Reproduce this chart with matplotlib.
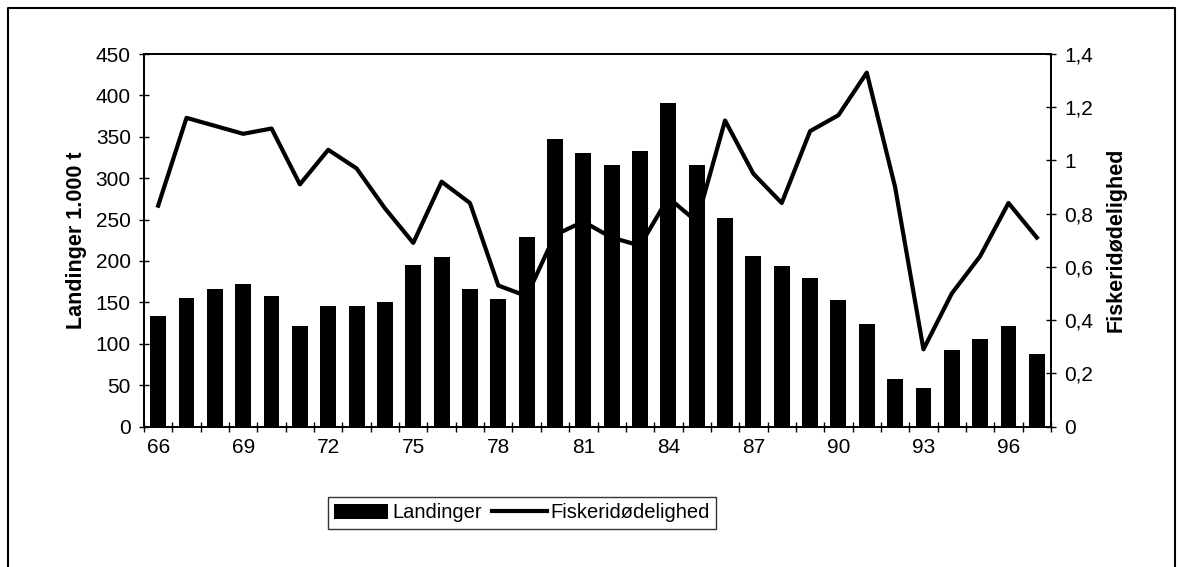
import matplotlib.pyplot as plt
from matplotlib.lines import Line2D
from matplotlib.ticker import FixedLocator, FuncFormatter

plt.rcParams['font.family'] = ['Liberation Sans', 'DejaVu Sans']

# %% Data.
years = ['66', '67', '68', '69', '70', '71', '72', '73', '74', '75', '76', '77',
         '78', '79', '80', '81', '82', '83', '84', '85', '86', '87', '88', '89',
         '90', '91', '92', '93', '94', '95', '96', '97']
landinger = [134, 155, 166, 172, 158, 122, 145, 145, 150, 195, 205, 166,
             154, 229, 347, 330, 316, 333, 391, 316, 252, 206, 194, 180,
             153, 124, 57, 46, 92, 106, 122, 88]
fiskeri = [0.83, 1.16, 1.13, 1.10, 1.12, 0.91, 1.04, 0.97, 0.82, 0.69, 0.92, 0.84,
           0.53, 0.49, 0.72, 0.77, 0.71, 0.68, 0.86, 0.77, 1.15, 0.95, 0.84, 1.11,
           1.17, 1.33, 0.90, 0.29, 0.50, 0.64, 0.84, 0.71]

# %% Plot.
fig = plt.figure(figsize=(11.8, 5.67), dpi=100)
ax = fig.add_axes([144 / 1180, 1 - 426.5 / 567, (1051 - 144) / 1180, (426.5 - 54) / 567])
ax2 = ax.twinx()

x = list(range(len(years)))
bars = ax.bar(x, landinger, width=0.56, color='black', label='Landinger')
line, = ax2.plot(x, fiskeri, color='black', linewidth=3, label='Fiskeridødelighed')

ax.set_xlim(-0.5, len(years) - 0.5)
ax.set_ylim(0, 450)
ax2.set_ylim(0, 1.4)
ax.set_yticks(range(0, 451, 50))
ax2.set_yticks([0, 0.2, 0.4, 0.6, 0.8, 1.0, 1.2, 1.4])
ax2.yaxis.set_major_formatter(FuncFormatter(lambda v, p: f"{v:g}".replace('.', ',')))

# ticks at category boundaries, labels every third year
ax.xaxis.set_major_locator(FixedLocator([i - 0.5 for i in range(len(years) + 1)]))
ax.xaxis.set_major_formatter(FuncFormatter(lambda v, p: ''))
ax.set_xticks(x[::3], years[::3], minor=True)
ax.tick_params(axis='x', which='major', direction='inout', length=7, width=1)
ax.tick_params(axis='x', which='minor', length=0, pad=8, labelsize=15)
ax.tick_params(axis='y', direction='inout', length=7, width=1, labelsize=15, pad=6)
ax2.tick_params(axis='y', direction='inout', length=7, width=1, labelsize=15, pad=6)

for a in (ax, ax2):
    for s in a.spines.values():
        s.set_linewidth(1.3)

ax.set_ylabel('Landinger 1.000 t', fontsize=15.5, fontweight='bold', labelpad=6)
ax2.set_ylabel('Fiskeridødelighed', fontsize=15.5, fontweight='bold', labelpad=9)

leg = fig.legend([bars, line], ['Landinger', 'Fiskeridødelighed'], ncol=2,
                 loc='center', bbox_to_anchor=(522 / 1180, 1 - 513 / 567),
                 fontsize=14.5, frameon=True, fancybox=False, edgecolor='black',
                 handlelength=2.7, handletextpad=0.2, columnspacing=0.5,
                 borderpad=0.3, borderaxespad=0)
leg.get_frame().set_linewidth(1.0)

# outer frame
fig.add_artist(Line2D([8 / 1180, 8 / 1180, 1175 / 1180, 1175 / 1180],
                      [0.0, 1 - 8 / 567, 1 - 8 / 567, 0.0],
                      transform=fig.transFigure, color='black', linewidth=1.5))

plt.savefig('out.png', dpi=100)
